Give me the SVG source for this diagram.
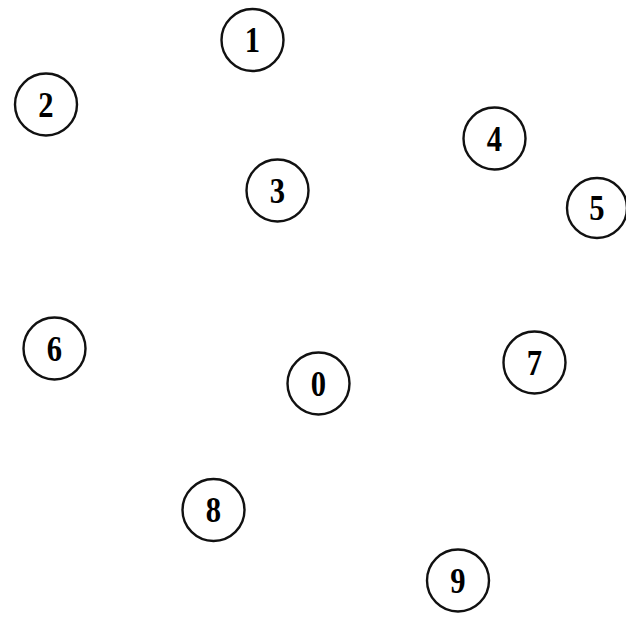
<svg xmlns="http://www.w3.org/2000/svg" width="626" height="617" viewBox="0 0 626 617">
<style>
.n circle{fill:#fff;stroke:#111;stroke-width:2.4}
.n text{font-family:"Liberation Serif","Times New Roman",serif;font-weight:bold;font-size:36px;fill:#000;text-anchor:middle}
</style>
<rect width="626" height="617" fill="#fff"/>
<g id="connectors"></g>
<g id="node1" class="n"><circle cx="252.5" cy="40" r="31"/><text transform="translate(252.5,52) scale(0.85,1)">1</text></g>
<g id="node2" class="n"><circle cx="46" cy="104.5" r="31"/><text transform="translate(46,116.5) scale(0.85,1)">2</text></g>
<g id="node3" class="n"><circle cx="277.5" cy="190.5" r="31"/><text transform="translate(277.5,202.5) scale(0.85,1)">3</text></g>
<g id="node4" class="n"><circle cx="494.5" cy="138.5" r="31"/><text transform="translate(494.5,150.5) scale(0.85,1)">4</text></g>
<g id="node5" class="n"><circle cx="597" cy="208" r="30"/><text transform="translate(597,220) scale(0.85,1)">5</text></g>
<g id="node6" class="n"><circle cx="54.5" cy="348.5" r="31"/><text transform="translate(54.5,360.5) scale(0.85,1)">6</text></g>
<g id="node0" class="n"><circle cx="318.5" cy="383.5" r="31"/><text transform="translate(318.5,395.5) scale(0.85,1)">0</text></g>
<g id="node7" class="n"><circle cx="534.5" cy="362.5" r="31"/><text transform="translate(534.5,374.5) scale(0.85,1)">7</text></g>
<g id="node8" class="n"><circle cx="213.5" cy="510" r="31"/><text transform="translate(213.5,522) scale(0.85,1)">8</text></g>
<g id="node9" class="n"><circle cx="458" cy="580.5" r="31"/><text transform="translate(458,592.5) scale(0.85,1)">9</text></g>
</svg>
